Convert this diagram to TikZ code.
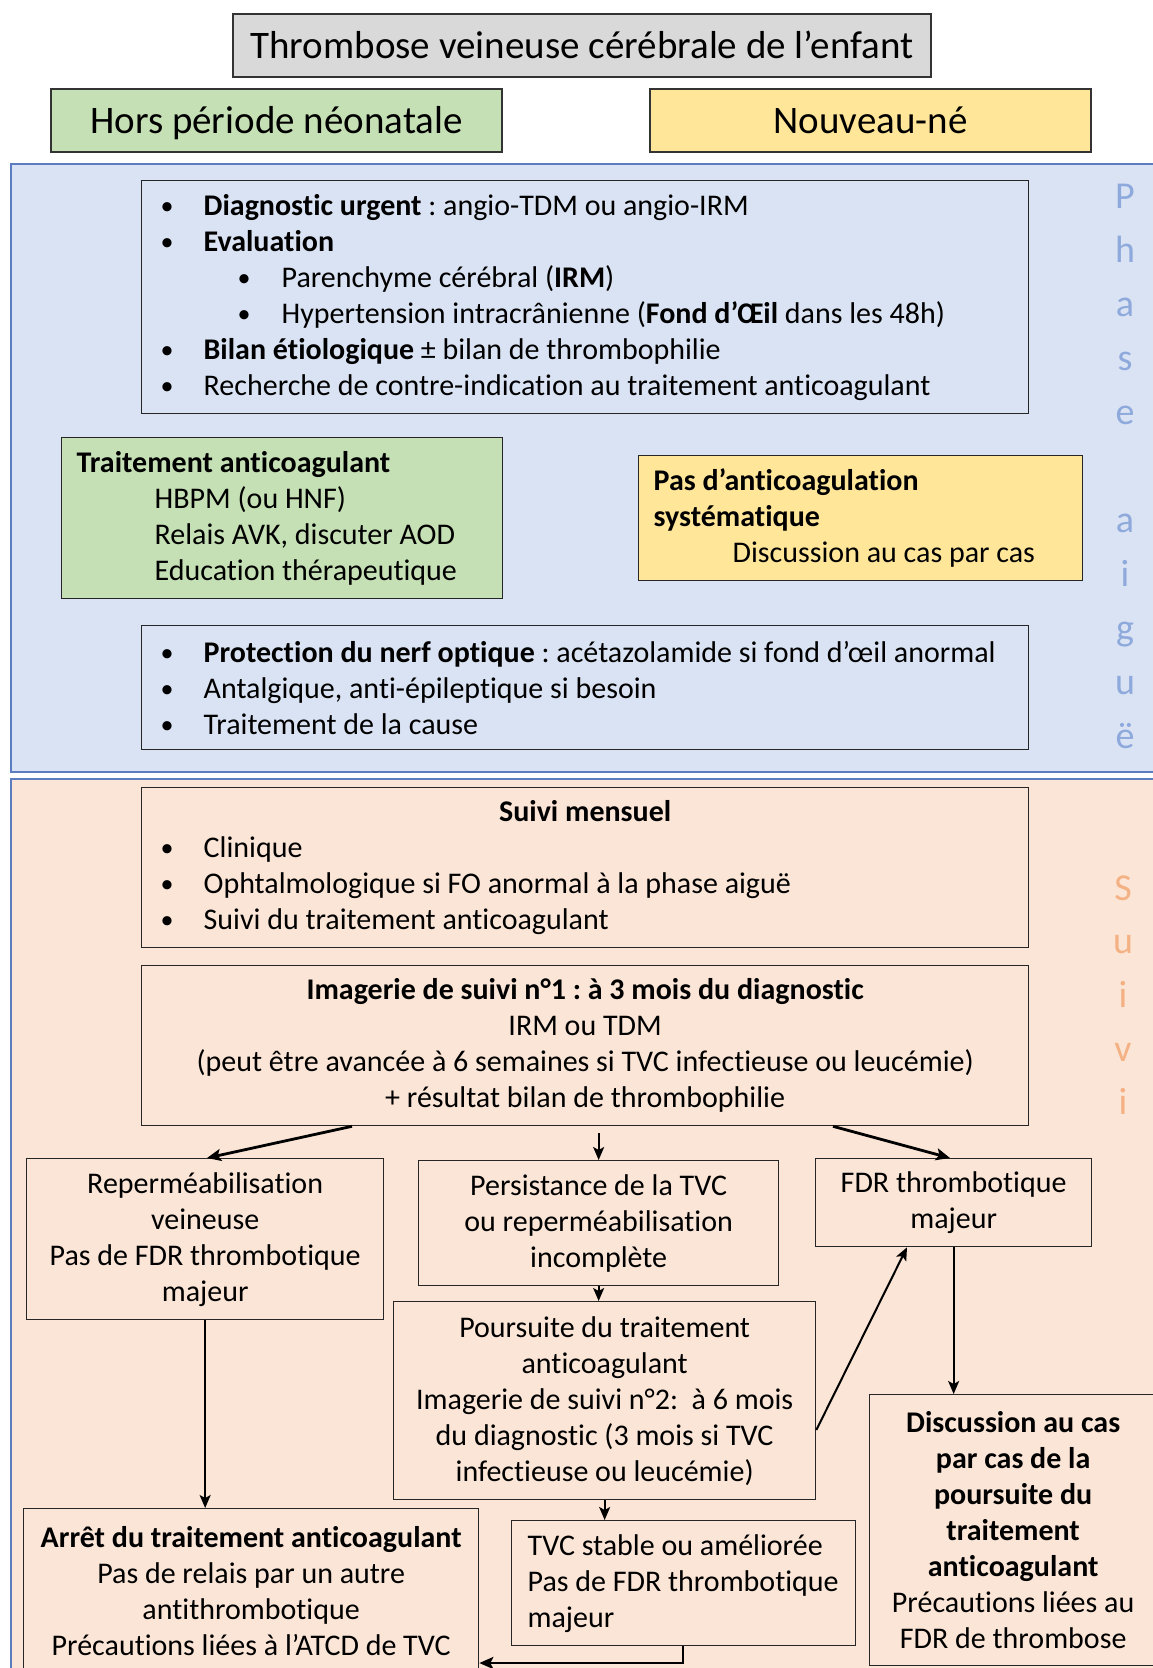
\documentclass[tikz,border=0pt]{standalone}
\usepackage{fontspec}
\setmainfont[Ligatures=NoCommon]{Carlito}
\usetikzlibrary{arrows.meta,calc}
\definecolor{hdrgray}{HTML}{D9D9D9}
\definecolor{hdrgreen}{HTML}{C5E0B4}
\definecolor{hdryellow}{HTML}{FFE699}
\definecolor{bluebg}{HTML}{DAE3F3}
\definecolor{peachbg}{HTML}{FBE5D6}
\definecolor{regborder}{HTML}{5B7DBF}
\definecolor{phaseblue}{HTML}{8EA9DB}
\definecolor{suiviorange}{HTML}{F4B183}
\newcommand{\bdot}{\raisebox{1pt}{\fontsize{26}{36}\selectfont•}}
\newcommand{\bl}[1]{\hspace*{19pt}\makebox[43pt][l]{\bdot}\mbox{#1}}
\newcommand{\sbl}[1]{\hspace*{96pt}\makebox[44pt][l]{\bdot}\mbox{#1}}
\newcommand{\natsp}{\spaceskip=0pt\xspaceskip=0pt\relax}
\tikzset{
  boxbase/.style={draw=black!85, line width=1.3pt, inner ysep=0pt, anchor=north west},
  leftbox/.style={boxbase, inner xsep=0pt, align=left, font=\fontsize{30}{36}\selectfont\frenchspacing},
  ctrbox/.style={boxbase, inner xsep=2pt, align=center, font=\fontsize{30}{36}\selectfont\frenchspacing},
  hdr/.style={draw=black!80, line width=1.3pt, inner sep=0pt, text height=26pt, text depth=1pt, font=\fontsize{39}{44}\selectfont},
  region/.style={draw=regborder, line width=1.5pt},
  thinarr/.style={line width=2pt, -{Stealth[length=13pt,width=11pt,inset=3pt]}},
  thickarr/.style={line width=2.8pt, -{Stealth[length=14pt,width=12pt,inset=3pt]}},
  phl/.style={anchor=base, text=phaseblue, font=\fontsize{38}{44}\selectfont},
  svl/.style={anchor=base, text=suiviorange, font=\fontsize{38}{44}\selectfont},
}
\begin{document}
\begin{tikzpicture}[x=1pt,y=-1pt]
\useasboundingbox (0,0) rectangle (1153,1668);
\clip (0,0) rectangle (1153,1668);
\fill[white] (0,0) rectangle (1153,1668);

% regions
\draw[region, fill=bluebg] (11,164) rectangle (1165,772);
\draw[region, fill=peachbg] (11,779) rectangle (1165,1680);

% headers
\node[hdr, fill=hdrgray, minimum width=698pt, minimum height=63pt] (title) at (582,45.5) {Thrombose veineuse cérébrale de l’enfant};
\node[hdr, fill=hdrgreen, minimum width=451pt, minimum height=63pt] (hors) at (276.5,120.5) {Hors période néonatale};
\node[hdr, fill=hdryellow, minimum width=441pt, minimum height=63pt] (nn) at (870.5,120.5) {Nouveau-né};

% phase aigue letters
\foreach \l/\k in {P/0,h/1,a/2,s/3,e/4,a/6,i/7,g/8,u/9,ë/10}{
  \node[phl] (ph\k) at (1125,208+54*\k) {\l};
}
% suivi letters
\foreach \l/\k in {S/0,u/1,i/2,v/3,i/4}{
  \node[svl] (sv\k) at (1123,900+53.7*\k) {\l};
}

% acute phase boxes
\node[leftbox, text width=887pt, minimum height=233pt] (diag) at (141,180) {\natsp
\bl{\textbf{Diagnostic urgent} : angio-TDM ou angio-IRM}\\
\bl{\textbf{Evaluation}}\\
\sbl{Parenchyme cérébral (\textbf{IRM})}\\
\sbl{Hypertension intracrânienne (\textbf{Fond d’Œil} dans les 48h)}\\
\bl{\textbf{Bilan étiologique} ± bilan de thrombophilie}\\
\bl{Recherche de contre-indication au traitement anticoagulant}};

\node[leftbox, fill=hdrgreen, text width=441pt, minimum height=161pt] (trt) at (61,437) {\natsp
\hspace*{15pt}\textbf{Traitement anticoagulant}\\
\hspace*{93pt}HBPM (ou HNF)\\
\hspace*{93pt}Relais AVK, discuter AOD\\
\hspace*{93pt}Education thérapeutique};

\node[leftbox, fill=hdryellow, text width=444pt, minimum height=125pt] (pas) at (638,455) {\natsp
\hspace*{15pt}\textbf{Pas d’anticoagulation}\\
\hspace*{15pt}\textbf{systématique}\\
\hspace*{94pt}Discussion au cas par cas};

\node[leftbox, text width=887pt, minimum height=124pt] (prot) at (141,625) {\natsp
\bl{\textbf{Protection du nerf optique} : acétazolamide si fond d’œil anormal}\\
\bl{Antalgique, anti-épileptique si besoin}\\
\bl{Traitement de la cause}};

% follow-up boxes
\node[leftbox, text width=887pt, minimum height=160pt] (mens) at (141,787) {\natsp
\makebox[887pt][c]{\textbf{Suivi mensuel}}\\
\bl{Clinique}\\
\bl{Ophtalmologique si FO anormal à la phase aiguë}\\
\bl{Suivi du traitement anticoagulant}};

\node[ctrbox, minimum width=887pt, minimum height=160pt] (img) at (141,965) {%
\textbf{Imagerie de suivi n°1 : à 3 mois du diagnostic}\\
IRM ou TDM\\
(peut être avancée à 6 semaines si TVC infectieuse ou leucémie)\\
+ résultat bilan de thrombophilie};

\node[ctrbox, minimum width=357pt, minimum height=161pt] (rep) at (26,1158) {%
Reperméabilisation\\ veineuse\\ Pas de FDR thrombotique\\ majeur};

\node[ctrbox, minimum width=360pt, minimum height=125pt] (per) at (418,1160) {%
Persistance de la TVC\\ ou reperméabilisation\\ incomplète};

\node[ctrbox, minimum width=276pt, minimum height=88pt] (fdr) at (815,1158) {%
FDR thrombotique\\ majeur};

\node[ctrbox, minimum width=422pt, minimum height=198pt] (pou) at (393,1301) {%
Poursuite du traitement\\ anticoagulant\\ Imagerie de suivi n°2:~ à 6 mois\\ du diagnostic (3 mois si TVC\\ infectieuse ou leucémie)};

\node[ctrbox, minimum width=287pt, minimum height=271pt] (dis) at (869,1394) {%
\textbf{Discussion au cas}\\ \textbf{par cas de la}\\ \textbf{poursuite du}\\ \textbf{traitement}\\ \textbf{anticoagulant}\\ Précautions liées au\\ FDR de thrombose};

\node[ctrbox, minimum width=455pt, minimum height=164pt] (arr) at (23,1508) {%
\textbf{Arrêt du traitement anticoagulant}\\ Pas de relais par un autre\\ antithrombotique\\ Précautions liées à l’ATCD de TVC};

\node[leftbox, text width=344pt, minimum height=125pt] (tvc) at (511,1520) {\natsp
\hspace*{16pt}TVC stable ou améliorée\\
\hspace*{16pt}Pas de FDR thrombotique\\
\hspace*{16pt}majeur};

% connectors
\draw[thickarr] ($(img.south west)+(211,0)$) -- ($(rep.north west)+(181,0)$);
\draw[thinarr] ($(img.south -| per.north)+(0,7)$) -- (per.north);
\draw[thickarr] ($(img.south west)+(692,0)$) -- ($(fdr.north west)+(135,0)$);
\draw[thinarr] (per.south) -- (per.south |- pou.north);
\draw[thinarr] (rep.south) -- (rep.south |- arr.north);
\draw[thinarr] ($(pou.north east)+(0,129)$) -- ($(fdr.south west)+(92,0)$);
\draw[thinarr] (fdr.south) -- (fdr.south |- dis.north);
\draw[thinarr] (pou.south) -- (pou.south |- tvc.north);
\draw[thickarr] ($(tvc.south west)+(172,0)$) |- ($(arr.north east)+(0,155)$);
\end{tikzpicture}
\end{document}
